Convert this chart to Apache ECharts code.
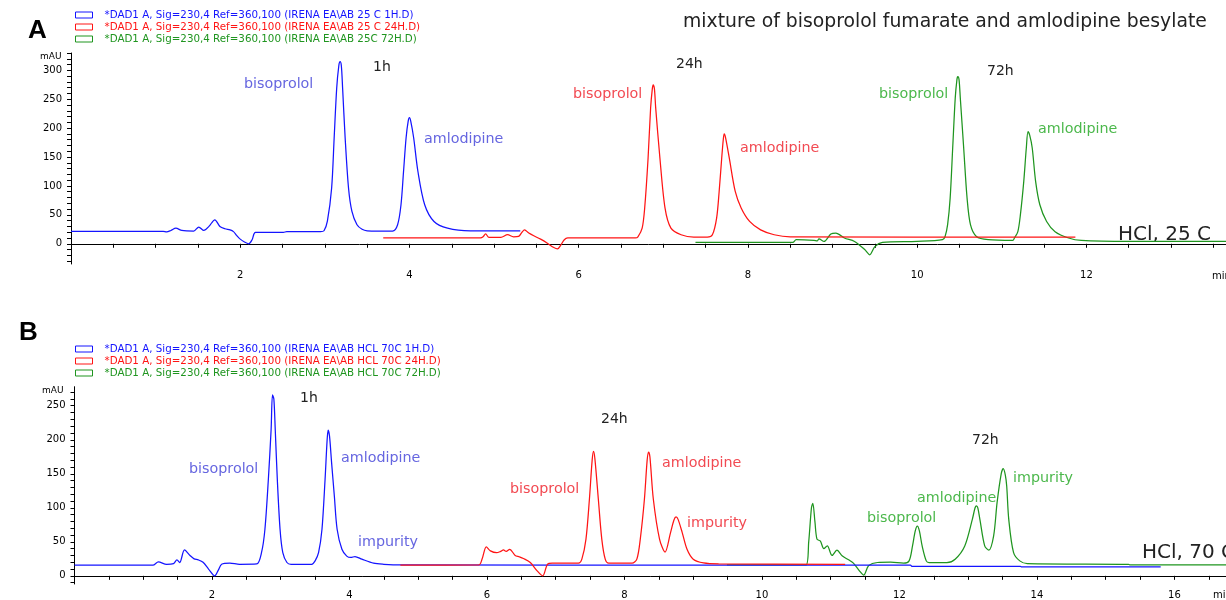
<!DOCTYPE html>
<html><head><meta charset="utf-8">
<script src="https://cdn.jsdelivr.net/npm/echarts@6/dist/echarts.min.js"></script>
<style>html,body{margin:0;padding:0;background:#fff}#c{width:1226px;height:600px}</style>
</head><body><div id="c"></div>
<script>
// ---------- DATA (time in min, absorbance in mAU) ----------
const NAMES_A = [
  '*DAD1 A, Sig=230,4 Ref=360,100 (IRENA EA\\AB 25 C 1H.D)',
  '*DAD1 A, Sig=230,4 Ref=360,100 (IRENA EA\\AB 25 C 24H.D)',
  '*DAD1 A, Sig=230,4 Ref=360,100 (IRENA EA\\AB 25C 72H.D)'
];
const NAMES_B = [
  '*DAD1 A, Sig=230,4 Ref=360,100 (IRENA EA\\AB HCL 70C 1H.D)',
  '*DAD1 A, Sig=230,4 Ref=360,100 (IRENA EA\\AB HCL 70C 24H.D)',
  '*DAD1 A, Sig=230,4 Ref=360,100 (IRENA EA\\AB HCL 70C 72H.D)'
];
const A_1H = [[0,21.3],[1.09,21.3],[1.13,20.5],[1.18,23],[1.24,27],[1.31,23],[1.45,22],[1.51,29],[1.57,23],[1.63,30],[1.70,41.5],[1.76,30],[1.82,26],[1.88,24],[1.92,21],[1.96,14],[2.0,8],[2.05,3],[2.10,0],[2.14,7],[2.18,19.6],[2.51,19.6],[2.55,21],[2.95,21],[2.99,22.5],[3.03,39],[3.08,96],[3.11,183],[3.14,269],[3.165,308],[3.18,315],[3.195,308],[3.21,269],[3.24,183],[3.28,96],[3.32,56],[3.38,33],[3.44,25],[3.50,22.5],[3.80,22],[3.86,33],[3.90,67.5],[3.93,125],[3.96,183],[3.985,212],[4.0,218],[4.015,212],[4.05,183],[4.10,125],[4.18,67.5],[4.29,38.6],[4.45,27],[4.72,22.5],[5.31,22.5]];
const A_24H = [[3.69,10],[4.84,10],[4.87,12],[4.90,17],[4.94,11],[5.08,11],[5.16,15.6],[5.23,12],[5.29,12.7],[5.33,20],[5.36,24],[5.41,18.5],[5.48,13],[5.55,8],[5.63,1],[5.70,-6],[5.75,-9],[5.79,-2],[5.83,7],[5.87,10],[6.67,10],[6.70,12],[6.75,27],[6.78,62],[6.82,148],[6.85,235],[6.87,268],[6.88,275],[6.895,268],[6.91,235],[6.96,148],[7.02,62],[7.09,27],[7.21,15.6],[7.36,11.6],[7.52,11.6],[7.58,15.6],[7.63,44.5],[7.66,90.5],[7.69,148],[7.71,182],[7.72,190],[7.735,184],[7.78,148],[7.85,90.5],[7.92,62],[8.02,38.6],[8.15,24],[8.31,15.6],[8.5,12],[11.87,11.6]];
const A_72H = [[7.38,2.2],[8.53,2.2],[8.57,7],[8.78,6],[8.82,5],[8.84,8.6],[8.90,4],[8.98,17],[9.04,18.5],[9.14,10],[9.26,4],[9.38,-10],[9.44,-19],[9.50,-5],[9.59,2.2],[10.0,4],[10.30,7],[10.33,12.7],[10.36,33],[10.39,79],[10.42,165.6],[10.45,252],[10.47,284],[10.48,289],[10.495,284],[10.51,252],[10.55,165.6],[10.59,79],[10.63,33],[10.70,12.7],[10.84,7],[11.13,5.7],[11.15,10],[11.19,21],[11.22,50],[11.26,108],[11.29,165.6],[11.31,194],[11.33,188],[11.36,165.6],[11.40,108],[11.45,67.5],[11.53,38.6],[11.63,21],[11.79,10],[11.94,5.7],[12.5,4],[13.65,4]];
const B_1H = [[0,15.7],[1.14,15.7],[1.22,20.5],[1.34,17],[1.44,18],[1.49,23.5],[1.53,19.6],[1.60,38],[1.68,30],[1.74,25],[1.80,23.5],[1.87,20],[1.95,10],[2.04,0],[2.09,8],[2.14,17],[2.26,18.6],[2.40,17],[2.65,17.5],[2.72,34],[2.77,68.5],[2.82,142],[2.86,215],[2.88,266],[2.90,260],[2.92,215],[2.95,142],[2.99,68.5],[3.03,34],[3.09,19.6],[3.15,17],[3.45,17],[3.50,22],[3.55,34],[3.60,68.5],[3.645,142],[3.675,200],[3.69,214],[3.71,205],[3.74,166],[3.78,117],[3.82,68.5],[3.89,39],[3.96,29],[4.02,27],[4.08,28.4],[4.18,24.5],[4.35,18.6],[4.5,17],[4.74,16],[9.5,15.8],[12.16,15.7],[12.18,14],[13.76,14],[13.78,13],[15.8,13]];
const B_24H = [[4.74,15.7],[5.88,16],[5.93,25],[5.99,42.5],[6.05,36.7],[6.14,34],[6.20,36],[6.24,38],[6.28,36],[6.33,39],[6.41,30],[6.47,28],[6.53,25.5],[6.63,19.6],[6.73,7.3],[6.81,0],[6.88,17],[6.95,18.6],[7.33,18.6],[7.38,24.5],[7.44,54],[7.49,112.5],[7.53,170],[7.55,183],[7.57,172],[7.62,112.5],[7.67,54],[7.72,24.5],[7.77,18.6],[8.11,18.6],[8.18,24.5],[8.23,54],[8.29,112.5],[8.33,170],[8.35,182],[8.37,175],[8.42,112.5],[8.51,54],[8.59,35],[8.67,63.6],[8.72,82],[8.75,86.5],[8.78,83],[8.84,63.6],[8.91,39],[9.0,24.5],[9.15,19],[9.37,17.6],[11.21,17]];
const B_72H = [[9.49,16],[10.64,16],[10.68,50],[10.72,100],[10.74,106.6],[10.77,80],[10.80,54],[10.85,51],[10.90,40],[10.95,44],[11.02,30],[11.09,37.7],[11.17,29],[11.26,23.5],[11.33,18.6],[11.42,7],[11.48,1],[11.55,14.7],[11.68,19.6],[11.87,20],[12.06,18.6],[12.14,22],[12.19,44],[12.23,66],[12.26,73],[12.29,66],[12.33,44],[12.39,22],[12.43,19.6],[12.69,19.6],[12.81,24.5],[12.95,44],[13.06,83],[13.10,100],[13.12,103],[13.14,100],[13.17,83],[13.24,44],[13.30,37.7],[13.37,58.7],[13.42,107.6],[13.48,150],[13.51,157.5],[13.54,148],[13.56,132],[13.59,83],[13.66,34],[13.75,22],[13.86,18],[15.33,17],[15.35,16],[16.75,16]];

const A_X_LABELS = [2,4,6,8,10,12];
const A_Y_LABELS = [0,50,100,150,200,250,300];
const B_X_LABELS = [2,4,6,8,10,12,14,16];
const B_Y_LABELS = [0,50,100,150,200,250];

// ---------- helpers ----------
function steps(a, b, s){ const r=[]; for(let v=a; v<=b+1e-9; v+=s) r.push(Math.round(v*100)/100); return r; }
const C = { blue:'#1414ff', red:'#ff1414', green:'#1f951f' };
const LBL = { blue:'#6666e0', red:'#f24a52', green:'#4cb84c', dark:'#222' };
const AX_FONT = 'DejaVu Sans';
const ANN_FONT = 'DejaVu Sans';

function xAxis(grid, max, labels){
  return { type:'value', gridIndex:grid, min:0, max:max,
    axisLine:{ lineStyle:{ color:'#000', width:1 } },
    axisTick:{ show:true, length:4, customValues: steps(0.5, Math.floor(max*2)/2, 0.5), lineStyle:{color:'#000'} },
    axisLabel:{ customValues: labels, color:'#000', fontFamily:AX_FONT, fontSize:10, margin:6 },
    splitLine:{ show:false } };
}
function yAxis(grid, min, max, labels){
  return { type:'value', gridIndex:grid, min:min, max:max,
    axisLine:{ show:true, lineStyle:{ color:'#000', width:1 } },
    axisTick:{ show:true, length:4, customValues: steps(Math.ceil(min/10)*10, Math.floor(max/10)*10, 10), lineStyle:{color:'#000'} },
    axisLabel:{ customValues: labels, color:'#000', fontFamily:AX_FONT, fontSize:10, margin:9 },
    splitLine:{ show:false } };
}
function line(name, data, color, xi){
  return { type:'line', name, data, xAxisIndex:xi, yAxisIndex:xi, symbol:'none', showSymbol:false,
    smooth:0.3, lineStyle:{ color, width:1.25 }, itemStyle:{ color }, silent:true };
}
function legendItem(name, color){
  return { name, icon:'rect', itemStyle:{ color:'#fff', borderColor:color, borderWidth:1 }, textStyle:{ color } };
}
function legend(top, names){
  return { orient:'vertical', left:70, top, itemWidth:17, itemHeight:6, itemGap:0, selectedMode:false,
    textStyle:{ fontFamily:AX_FONT, fontSize:10.3, lineHeight:12, padding:[0,0,0,7] },
    data:[ legendItem(names[0], C.blue), legendItem(names[1], C.red), legendItem(names[2], C.green) ] };
}
function txt(text, x, y, color, size, opts){
  opts = opts || {};
  return { type:'text', x, y, silent:true, style:{ text, fill:color,
    font:(opts.bold?'bold ':'') + size + 'px ' + (opts.family || ANN_FONT), align:'left', verticalAlign:'middle' } };
}

const option = {
  animation:false,
  backgroundColor:'#fff',
  grid:[
    { left:71, top:53, right:0, bottom:336 },
    { left:74.5, top:386.7, right:0, bottom:15 }
  ],
  xAxis:[ xAxis(0, 13.65, A_X_LABELS), xAxis(1, 16.75, B_X_LABELS) ],
  yAxis:[ yAxis(0, -35, 330, A_Y_LABELS), yAxis(1, -12, 278, B_Y_LABELS) ],
  legend:[ legend(4, NAMES_A), legend(338, NAMES_B) ],
  series:[
    line(NAMES_A[2], A_72H, C.green, 0),
    line(NAMES_A[0], A_1H, C.blue, 0),
    line(NAMES_A[1], A_24H, C.red, 0),
    line(NAMES_B[2], B_72H, C.green, 1),
    line(NAMES_B[0], B_1H, C.blue, 1),
    line(NAMES_B[1], B_24H, C.red, 1)
  ],
  graphic:[
    txt('A', 28, 31, '#000', 26, {bold:true, family:'Liberation Sans'}),
    txt('B', 19, 333, '#000', 26, {bold:true, family:'Liberation Sans'}),
    txt('mixture of bisoprolol fumarate and amlodipine besylate', 683, 22, LBL.dark, 18.8),
    txt('mAU', 40, 57, '#000', 9, {family:AX_FONT}),
    txt('mAU', 42, 391, '#000', 9, {family:AX_FONT}),
    txt('min', 1212, 276, '#000', 10, {family:AX_FONT}),
    txt('min', 1213, 595, '#000', 10, {family:AX_FONT}),
    // panel A
    txt('bisoprolol', 244, 84, LBL.blue, 14.3),
    txt('amlodipine', 424, 139, LBL.blue, 14.3),
    txt('1h', 373, 67, LBL.dark, 14),
    txt('bisoprolol', 573, 94, LBL.red, 14.3),
    txt('amlodipine', 740, 148, LBL.red, 14.3),
    txt('24h', 676, 64, LBL.dark, 14),
    txt('bisoprolol', 879, 94, LBL.green, 14.3),
    txt('amlodipine', 1038, 129, LBL.green, 14.3),
    txt('72h', 987, 71, LBL.dark, 14),
    txt('HCl, 25 C', 1118, 235, LBL.dark, 20),
    // panel B
    txt('bisoprolol', 189, 469, LBL.blue, 14.3),
    txt('amlodipine', 341, 458, LBL.blue, 14.3),
    txt('impurity', 358, 542, LBL.blue, 14.3),
    txt('1h', 300, 398, LBL.dark, 14),
    txt('bisoprolol', 510, 489, LBL.red, 14.3),
    txt('amlodipine', 662, 463, LBL.red, 14.3),
    txt('impurity', 687, 523, LBL.red, 14.3),
    txt('24h', 601, 419, LBL.dark, 14),
    txt('bisoprolol', 867, 518, LBL.green, 14.3),
    txt('amlodipine', 917, 498, LBL.green, 14.3),
    txt('impurity', 1013, 478, LBL.green, 14.3),
    txt('72h', 972, 440, LBL.dark, 14),
    txt('HCl, 70 C', 1142, 553, LBL.dark, 20)
  ]
};
echarts.init(document.getElementById('c'), null, { renderer:'canvas' }).setOption(option);
</script></body></html>
